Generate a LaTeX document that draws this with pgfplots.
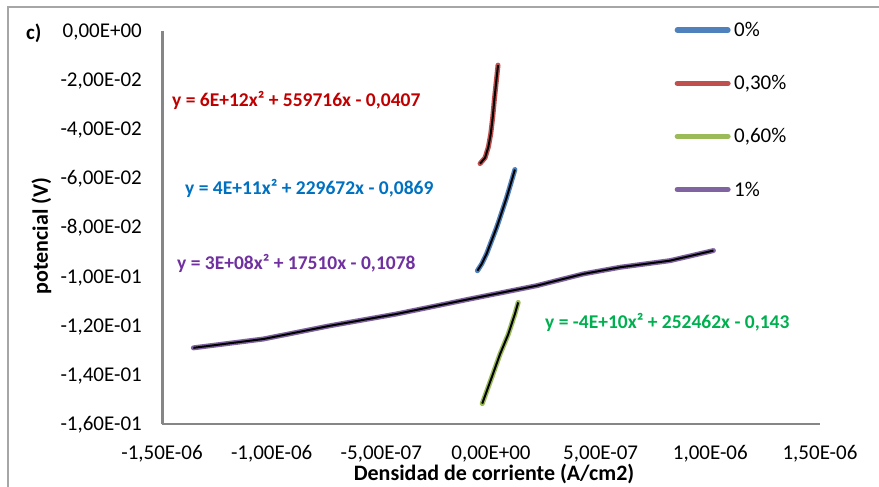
\documentclass[border=0pt]{standalone}
\usepackage{fontspec}
\setmainfont{Carlito}
\usepackage{pgfplots}
\usepackage{pgfplotstable}
\pgfplotsset{compat=1.18}
\definecolor{axgray}{HTML}{868686}
\definecolor{bordergray}{HTML}{A6A6A6}
\definecolor{sblue}{HTML}{4F81BD}
\definecolor{sred}{HTML}{C0504D}
\definecolor{sgreen}{HTML}{9BBB59}
\definecolor{spurple}{HTML}{8064A2}
\definecolor{eqred}{HTML}{C00000}
\definecolor{eqblue}{HTML}{0070C0}
\definecolor{eqpurple}{HTML}{7030A0}
\definecolor{eqgreen}{HTML}{00B050}

\pgfplotstableread{
x y
-6.2e-8 -0.0976
-4.2e-8 -0.0948
-2.0e-8 -0.0907
0.3e-8 -0.0853
2.6e-8 -0.0799
4.9e-8 -0.0738
7.2e-8 -0.0676
9.0e-8 -0.0622
10.9e-8 -0.0564
}\blue

\pgfplotstableread{
x y
-5.0e-8 -0.0540
-2.7e-8 -0.0516
-1.2e-8 -0.0472
-0.1e-8 -0.0418
0.8e-8 -0.0350
1.5e-8 -0.0282
2.3e-8 -0.0214
3.2e-8 -0.0139
}\red

\pgfplotstableread{
x y
-4.0e-8 -0.1517
0.3e-8 -0.1411
4.1e-8 -0.1316
7.9e-8 -0.1234
10.9e-8 -0.1152
12.4e-8 -0.1105
}\green

\pgfplotstableread{
x y
-1.357e-6 -0.1290
-1.038e-6 -0.1254
-0.734e-6 -0.1200
-0.430e-6 -0.1152
-0.0958e-6 -0.1091
0.208e-6 -0.1037
0.421e-6 -0.0989
0.588e-6 -0.0962
0.816e-6 -0.0935
1.014e-6 -0.0894
}\purple

\newcommand{\f}{\fontsize{21bp}{24bp}\selectfont}
\newcommand{\fe}{\fontsize{19.5bp}{22bp}\selectfont}
\newcommand{\ft}{\fontsize{22bp}{25bp}\selectfont}

\begin{document}
\begin{tikzpicture}[font=\f]
\path[use as bounding box] (0,0) rectangle (879bp,487bp);
\draw[bordergray, line width=1.5bp] (8bp,0) -- (8bp,480bp) -- (879bp,480bp);
\begin{axis}[
  at={(162bp,63bp)}, anchor=south west,
  scale only axis, width=658bp, height=393bp,
  xmin=-1.5e-6, xmax=1.5e-6, ymin=-0.16, ymax=0,
  axis x line*=bottom, axis y line*=left,
  axis line style={draw=axgray, line width=1.8bp},
  major tick length=0pt,
  scaled x ticks=false, scaled y ticks=false,
  xtick={-1.5e-6,-1e-6,-5e-7,0,5e-7,1e-6,1.5e-6},
  xticklabels={{-1,50E-06},{-1,00E-06},{-5,00E-07},{0,00E+00},{5,00E-07},{1,00E-06},{1,50E-06}},
  ytick={-0.16,-0.14,-0.12,-0.10,-0.08,-0.06,-0.04,-0.02,0},
  yticklabels={{-1,60E-01},{-1,40E-01},{-1,20E-01},{-1,00E-01},{-8,00E-02},{-6,00E-02},{-4,00E-02},{-2,00E-02},{0,00E+00}},
  xticklabel style={font=\f, anchor=center, inner sep=0pt, text height=13bp, text depth=0pt, yshift=-29bp},
  yticklabel style={font=\f, anchor=east, inner sep=0pt, text height=13bp, text depth=0pt, xshift=-20bp},
  xlabel={Densidad de corriente (A/cm2)},
  xlabel style={font=\ft\bfseries, at={(axis description cs:0.5046,-0.1272)}, anchor=center, inner sep=0pt, text height=14bp, text depth=0pt},
  ylabel={potencial (V)},
  ylabel style={font=\ft\bfseries, at={(axis description cs:-0.1839,0.478)}, anchor=center, inner sep=0pt, text height=14bp, text depth=0pt},
  legend style={at={(0.775,1.0254)}, anchor=north west, draw=none, fill=none, inner sep=0pt,
    row sep=35.1bp, column sep=1bp, font=\f,
    nodes={inner sep=0pt, text height=13bp, text depth=0pt}},
  legend cell align=left,
  legend image code/.code={\draw[#1, line width=5.5bp, line cap=round] (2.75bp,0bp) -- (53.25bp,0bp); \path (0,-6.5bp) (56bp,6.5bp);},
  clip=false,
]
\addplot[sblue, line width=5bp, line cap=round, line join=round] table[x=x,y=y] {\blue};
\addlegendentry{0\%}
\addplot[sred, line width=5bp, line cap=round, line join=round] table[x=x,y=y] {\red};
\addlegendentry{0,30\%}
\addplot[sgreen, line width=5bp, line cap=round, line join=round] table[x=x,y=y] {\green};
\addlegendentry{0,60\%}
\addplot[spurple, line width=5bp, line cap=round, line join=round] table[x=x,y=y] {\purple};
\addlegendentry{1\%}
\addplot[black, line width=2bp, forget plot] table[x=x,y=y] {\blue};
\addplot[black, line width=2bp, forget plot] table[x=x,y=y] {\red};
\addplot[black, line width=2bp, forget plot] table[x=x,y=y] {\green};
\addplot[black, line width=2bp, forget plot] table[x=x,y=y] {\purple};
\end{axis}
\draw[axgray, line width=2bp] (162.5bp,456bp) -- (162.5bp,63bp) -- (819bp,63bp);
\begin{scope}[every node/.style={anchor=west, inner sep=0pt, text height=12.5bp, text depth=0pt, font=\fe\bfseries}]
\node[text=eqred] at (172bp,387bp) {y = 6E+12x² + 559716x - 0,0407};
\node[text=eqblue] at (185bp,299bp) {y = 4E+11x² + 229672x - 0,0869};
\node[text=eqpurple] at (177bp,224bp) {y = 3E+08x² + 17510x - 0,1078};
\node[text=eqgreen] at (545bp,165bp) {y = -4E+10x² + 252462x - 0,143};
\node[font=\f\bfseries, text height=13bp] at (26bp,454bp) {c)};
\end{scope}
\end{tikzpicture}
\end{document}
